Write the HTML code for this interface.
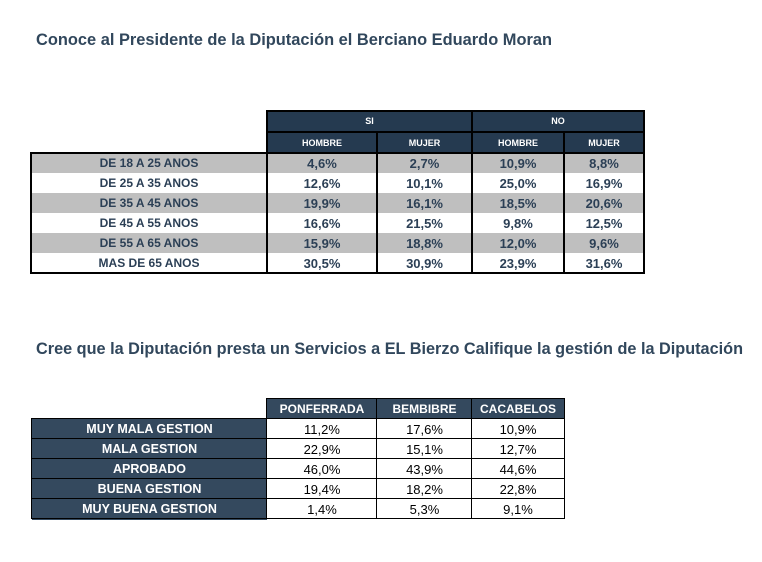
<!DOCTYPE html>
<html><head><meta charset="utf-8">
<style>
*{margin:0;padding:0;box-sizing:border-box}
body{width:762px;height:562px;background:#fff;position:relative;overflow:hidden;font-family:"Liberation Sans",sans-serif}
.a{position:absolute}
.c{position:absolute;text-align:center;white-space:nowrap}
.hd{background:#253a50;color:#fff;font-weight:bold;font-size:9px}
.t1{color:#2b3f55;font-weight:bold;font-size:13px}
.lb{color:#2b3f55;font-weight:bold;font-size:12px}
.g{background:#bfbfbf}
.h2{background:#34495e;color:#fff;font-weight:bold;font-size:12px}
.l2{background:#34495e;color:#fff;font-weight:bold;font-size:12.5px}
.d2{color:#000;font-size:13px}
</style></head><body>
<svg class="a" style="left:0;top:0" width="762" height="562">
<text x="36" y="45" font-family="Liberation Sans, sans-serif" font-weight="bold" font-size="17" fill="#31475c" textLength="516" lengthAdjust="spacingAndGlyphs">Conoce al Presidente de la Diputación el Berciano Eduardo Moran</text>
<text x="36" y="354" font-family="Liberation Sans, sans-serif" font-weight="bold" font-size="17" fill="#31475c" textLength="707" lengthAdjust="spacingAndGlyphs">Cree que la Diputación presta un Servicios a EL Bierzo Califique la gestión de la Diputación</text>
</svg>

<!-- Table 1 header -->
<div class="c hd" style="left:267px;top:111px;width:205px;height:21px;line-height:21px">SI</div>
<div class="c hd" style="left:472px;top:111px;width:172px;height:21px;line-height:21px">NO</div>
<div class="c hd" style="left:267px;top:132px;width:110px;height:21px;line-height:22px">HOMBRE</div>
<div class="c hd" style="left:377px;top:132px;width:95px;height:21px;line-height:22px">MUJER</div>
<div class="c hd" style="left:472px;top:132px;width:92px;height:21px;line-height:22px">HOMBRE</div>
<div class="c hd" style="left:564px;top:132px;width:80px;height:21px;line-height:22px">MUJER</div>

<!-- gray rows -->
<div class="a g" style="left:31px;top:153px;width:613px;height:20px"></div>
<div class="a g" style="left:31px;top:193px;width:613px;height:20px"></div>
<div class="a g" style="left:31px;top:233px;width:613px;height:20px"></div>

<!-- header borders -->
<div class="a" style="left:266px;top:110px;width:379px;height:2px;background:#000"></div>
<div class="a" style="left:266px;top:131px;width:379px;height:2px;background:#000"></div>
<div class="a" style="left:266px;top:110px;width:2px;height:44px;background:#000"></div>
<div class="a" style="left:643px;top:110px;width:2px;height:44px;background:#000"></div>
<div class="a" style="left:471px;top:110px;width:2px;height:44px;background:#000"></div>
<div class="a" style="left:376px;top:131px;width:2px;height:23px;background:#000"></div>
<div class="a" style="left:563px;top:131px;width:2px;height:23px;background:#000"></div>

<!-- data box borders -->
<div class="a" style="left:30px;top:152px;width:615px;height:122px;border:2px solid #000"></div>
<div class="a" style="left:266px;top:152px;width:2px;height:122px;background:#000"></div>
<div class="a" style="left:376px;top:152px;width:2px;height:122px;background:#000"></div>
<div class="a" style="left:471px;top:152px;width:2px;height:122px;background:#000"></div>
<div class="a" style="left:563px;top:152px;width:2px;height:122px;background:#000"></div>

<!-- Table 1 data -->
<div class="c lb" style="left:31px;top:153px;width:236px;height:20px;line-height:21px">DE 18 A 25 ANOS</div>
<div class="c lb" style="left:31px;top:173px;width:236px;height:20px;line-height:21px">DE 25 A 35 ANOS</div>
<div class="c lb" style="left:31px;top:193px;width:236px;height:20px;line-height:21px">DE 35 A 45 ANOS</div>
<div class="c lb" style="left:31px;top:213px;width:236px;height:20px;line-height:21px">DE 45 A 55 ANOS</div>
<div class="c lb" style="left:31px;top:233px;width:236px;height:20px;line-height:21px">DE 55 A 65 ANOS</div>
<div class="c lb" style="left:31px;top:253px;width:236px;height:20px;line-height:21px">MAS DE 65 ANOS</div>

<div class="c t1" style="left:267px;top:153px;width:110px;line-height:21px">4,6%</div>
<div class="c t1" style="left:267px;top:173px;width:110px;line-height:21px">12,6%</div>
<div class="c t1" style="left:267px;top:193px;width:110px;line-height:21px">19,9%</div>
<div class="c t1" style="left:267px;top:213px;width:110px;line-height:21px">16,6%</div>
<div class="c t1" style="left:267px;top:233px;width:110px;line-height:21px">15,9%</div>
<div class="c t1" style="left:267px;top:253px;width:110px;line-height:21px">30,5%</div>

<div class="c t1" style="left:377px;top:153px;width:95px;line-height:21px">2,7%</div>
<div class="c t1" style="left:377px;top:173px;width:95px;line-height:21px">10,1%</div>
<div class="c t1" style="left:377px;top:193px;width:95px;line-height:21px">16,1%</div>
<div class="c t1" style="left:377px;top:213px;width:95px;line-height:21px">21,5%</div>
<div class="c t1" style="left:377px;top:233px;width:95px;line-height:21px">18,8%</div>
<div class="c t1" style="left:377px;top:253px;width:95px;line-height:21px">30,9%</div>

<div class="c t1" style="left:472px;top:153px;width:92px;line-height:21px">10,9%</div>
<div class="c t1" style="left:472px;top:173px;width:92px;line-height:21px">25,0%</div>
<div class="c t1" style="left:472px;top:193px;width:92px;line-height:21px">18,5%</div>
<div class="c t1" style="left:472px;top:213px;width:92px;line-height:21px">9,8%</div>
<div class="c t1" style="left:472px;top:233px;width:92px;line-height:21px">12,0%</div>
<div class="c t1" style="left:472px;top:253px;width:92px;line-height:21px">23,9%</div>

<div class="c t1" style="left:564px;top:153px;width:80px;line-height:21px">8,8%</div>
<div class="c t1" style="left:564px;top:173px;width:80px;line-height:21px">16,9%</div>
<div class="c t1" style="left:564px;top:193px;width:80px;line-height:21px">20,6%</div>
<div class="c t1" style="left:564px;top:213px;width:80px;line-height:21px">12,5%</div>
<div class="c t1" style="left:564px;top:233px;width:80px;line-height:21px">9,6%</div>
<div class="c t1" style="left:564px;top:253px;width:80px;line-height:21px">31,6%</div>

<!-- Table 2 -->
<div class="c h2" style="left:267px;top:399px;width:110px;height:20px;line-height:21px">PONFERRADA</div>
<div class="c h2" style="left:377px;top:399px;width:95px;height:20px;line-height:21px">BEMBIBRE</div>
<div class="c h2" style="left:472px;top:399px;width:92px;height:20px;line-height:21px">CACABELOS</div>

<div class="a" style="left:32px;top:419px;width:235px;height:100px;background:#34495e"></div>
<div class="c l2" style="left:32px;top:419px;width:235px;line-height:21px">MUY MALA GESTION</div>
<div class="c l2" style="left:32px;top:439px;width:235px;line-height:21px">MALA GESTION</div>
<div class="c l2" style="left:32px;top:459px;width:235px;line-height:21px">APROBADO</div>
<div class="c l2" style="left:32px;top:479px;width:235px;line-height:21px">BUENA GESTION</div>
<div class="c l2" style="left:32px;top:499px;width:235px;line-height:21px">MUY BUENA GESTION</div>

<div class="c d2" style="left:267px;top:419px;width:110px;line-height:21px">11,2%</div>
<div class="c d2" style="left:267px;top:439px;width:110px;line-height:21px">22,9%</div>
<div class="c d2" style="left:267px;top:459px;width:110px;line-height:21px">46,0%</div>
<div class="c d2" style="left:267px;top:479px;width:110px;line-height:21px">19,4%</div>
<div class="c d2" style="left:267px;top:499px;width:110px;line-height:21px">1,4%</div>

<div class="c d2" style="left:377px;top:419px;width:95px;line-height:21px">17,6%</div>
<div class="c d2" style="left:377px;top:439px;width:95px;line-height:21px">15,1%</div>
<div class="c d2" style="left:377px;top:459px;width:95px;line-height:21px">43,9%</div>
<div class="c d2" style="left:377px;top:479px;width:95px;line-height:21px">18,2%</div>
<div class="c d2" style="left:377px;top:499px;width:95px;line-height:21px">5,3%</div>

<div class="c d2" style="left:472px;top:419px;width:92px;line-height:21px">10,9%</div>
<div class="c d2" style="left:472px;top:439px;width:92px;line-height:21px">12,7%</div>
<div class="c d2" style="left:472px;top:459px;width:92px;line-height:21px">44,6%</div>
<div class="c d2" style="left:472px;top:479px;width:92px;line-height:21px">22,8%</div>
<div class="c d2" style="left:472px;top:499px;width:92px;line-height:21px">9,1%</div>

<!-- Table 2 grid lines -->
<div class="a" style="left:266px;top:398px;width:299px;height:1px;background:#000"></div>
<div class="a" style="left:31px;top:418px;width:534px;height:1px;background:#000"></div>
<div class="a" style="left:31px;top:438px;width:534px;height:1px;background:#000"></div>
<div class="a" style="left:31px;top:458px;width:534px;height:1px;background:#000"></div>
<div class="a" style="left:31px;top:478px;width:534px;height:1px;background:#000"></div>
<div class="a" style="left:31px;top:498px;width:534px;height:1px;background:#000"></div>
<div class="a" style="left:31px;top:518px;width:534px;height:1px;background:#000"></div>
<div class="a" style="left:31px;top:418px;width:1px;height:101px;background:#000"></div>
<div class="a" style="left:266px;top:398px;width:1px;height:121px;background:#000"></div>
<div class="a" style="left:376px;top:398px;width:1px;height:121px;background:#000"></div>
<div class="a" style="left:471px;top:398px;width:1px;height:121px;background:#000"></div>
<div class="a" style="left:564px;top:398px;width:1px;height:121px;background:#000"></div>
</body></html>
